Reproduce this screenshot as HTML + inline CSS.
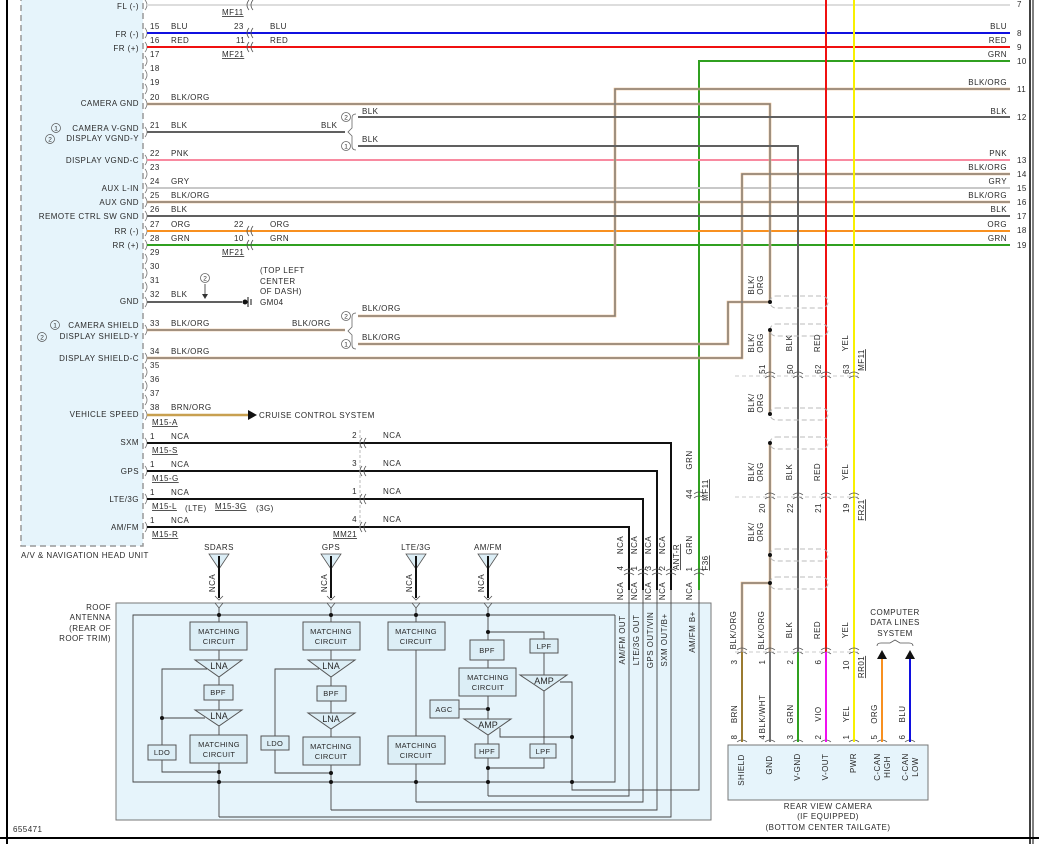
<!DOCTYPE html>
<html><head><meta charset="utf-8"><style>
html,body{margin:0;padding:0;background:#fff;}
svg{display:block;font-family:"Liberation Sans",sans-serif;font-size:8px;fill:#333;letter-spacing:0.45px;}
text{fill:#2a2a2a;}
.u{text-decoration:underline;}
</style></head><body>
<svg width="1039" height="844" viewBox="0 0 1039 844" xmlns="http://www.w3.org/2000/svg">
<!-- borders -->
<line x1="7" y1="0" x2="7" y2="844" stroke="#000" stroke-width="2"/>
<line x1="1030" y1="0" x2="1030" y2="844" stroke="#000" stroke-width="1.5"/>
<line x1="1033" y1="0" x2="1033" y2="844" stroke="#000" stroke-width="1"/>
<line x1="0" y1="838" x2="1039" y2="838" stroke="#000" stroke-width="2"/>

<!-- head unit box -->
<rect x="21" y="-5" width="122" height="551" fill="#e6f4fb" stroke="#999" stroke-width="1.5" stroke-dasharray="6,4"/>
<text x="21" y="558">A/V &amp; NAVIGATION HEAD UNIT</text>
<text x="13" y="832">655471</text>

<!-- left labels -->
<g text-anchor="end">
<text x="139" y="9">FL (-)</text>
<text x="139" y="37">FR (-)</text>
<text x="139" y="51">FR (+)</text>
<text x="139" y="106">CAMERA GND</text>
<text x="139" y="131">CAMERA V-GND</text>
<text x="139" y="141">DISPLAY VGND-Y</text>
<text x="139" y="163">DISPLAY VGND-C</text>
<text x="139" y="191">AUX L-IN</text>
<text x="139" y="205">AUX GND</text>
<text x="139" y="219">REMOTE CTRL SW GND</text>
<text x="139" y="234">RR (-)</text>
<text x="139" y="248">RR (+)</text>
<text x="139" y="304">GND</text>
<text x="139" y="328">CAMERA SHIELD</text>
<text x="139" y="339">DISPLAY SHIELD-Y</text>
<text x="139" y="361">DISPLAY SHIELD-C</text>
<text x="139" y="417">VEHICLE SPEED</text>
<text x="139" y="445">SXM</text>
<text x="139" y="474">GPS</text>
<text x="139" y="502">LTE/3G</text>
<text x="139" y="530">AM/FM</text>
</g>
<g fill="none" stroke="#555" stroke-width="0.7">
<circle cx="56" cy="128" r="4.5"/><circle cx="50" cy="139" r="4.5"/>
<circle cx="55" cy="325" r="4.5"/><circle cx="42" cy="337" r="4.5"/>
</g>
<g font-size="6.5" text-anchor="middle" style="letter-spacing:0">
<text x="56" y="130.5">1</text><text x="50" y="141.5">2</text>
<text x="55" y="327.5">1</text><text x="42" y="339.5">2</text>
</g>

<!-- pin connector marks -->
<g fill="none" stroke="#777" stroke-width="0.8">
<path d="M145 0 q4 5 0 10 M145 28 q4 5 0 10 M145 42 q4 5 0 10 M145 56 q4 5 0 10 M145 70 q4 5 0 10 M145 84 q4 5 0 10 M145 99 q4 5 0 10 M145 127 q4 5 0 10 M145 155 q4 5 0 10 M145 169 q4 5 0 10 M145 183 q4 5 0 10 M145 197 q4 5 0 10 M145 211 q4 5 0 10 M145 226 q4 5 0 10 M145 240 q4 5 0 10 M145 254 q4 5 0 10 M145 268 q4 5 0 10 M145 282 q4 5 0 10 M145 297 q4 5 0 10 M145 325 q4 5 0 10 M145 353 q4 5 0 10 M145 367 q4 5 0 10 M145 381 q4 5 0 10 M145 395 q4 5 0 10 M145 410 q4 5 0 10 M145 438 q4 5 0 10 M145 466 q4 5 0 10 M145 494 q4 5 0 10 M145 522 q4 5 0 10"/>
</g>
<!-- pin numbers -->
<g>
<text x="150" y="29">15</text><text x="150" y="43">16</text><text x="150" y="57">17</text><text x="150" y="71">18</text><text x="150" y="85">19</text>
<text x="150" y="100">20</text><text x="150" y="128">21</text><text x="150" y="156">22</text><text x="150" y="170">23</text><text x="150" y="184">24</text>
<text x="150" y="198">25</text><text x="150" y="212">26</text><text x="150" y="227">27</text><text x="150" y="241">28</text><text x="150" y="255">29</text>
<text x="150" y="269">30</text><text x="150" y="283">31</text><text x="150" y="297">32</text><text x="150" y="326">33</text><text x="150" y="354">34</text>
<text x="150" y="368">35</text><text x="150" y="382">36</text><text x="150" y="396">37</text><text x="150" y="410">38</text>
<text x="150" y="439">1</text><text x="150" y="467">1</text><text x="150" y="495">1</text><text x="150" y="523">1</text>
</g>
<!-- wire color labels left -->
<g>
<text x="171" y="29">BLU</text><text x="171" y="43">RED</text><text x="171" y="100">BLK/ORG</text><text x="171" y="128">BLK</text>
<text x="171" y="156">PNK</text><text x="171" y="184">GRY</text><text x="171" y="198">BLK/ORG</text><text x="171" y="212">BLK</text>
<text x="171" y="227">ORG</text><text x="171" y="241">GRN</text><text x="171" y="297">BLK</text><text x="171" y="326">BLK/ORG</text>
<text x="171" y="354">BLK/ORG</text><text x="171" y="410">BRN/ORG</text>
<text x="171" y="439">NCA</text><text x="171" y="467">NCA</text><text x="171" y="495">NCA</text><text x="171" y="523">NCA</text>
<text x="234" y="29">23</text><text x="236" y="43">11</text><text x="270" y="29">BLU</text><text x="270" y="43">RED</text>
<text x="234" y="227">22</text><text x="234" y="241">10</text><text x="270" y="227">ORG</text><text x="270" y="241">GRN</text>
<text x="222" y="15" class="u">MF11</text><text x="222" y="57" class="u">MF21</text><text x="222" y="255" class="u">MF21</text>
<text x="321" y="128">BLK</text><text x="362" y="114">BLK</text><text x="362" y="142">BLK</text>
<text x="292" y="326">BLK/ORG</text><text x="362" y="311">BLK/ORG</text><text x="362" y="340">BLK/ORG</text>
</g>

<!-- horizontal wires -->
<g fill="none" stroke-width="2">
<line x1="147" y1="5" x2="1010" y2="5" stroke="#ddd"/>
<line x1="147" y1="33" x2="1010" y2="33" stroke="#1010e0"/>
<line x1="147" y1="47" x2="1010" y2="47" stroke="#f01010"/>
<polyline points="699,590 699,61 1010,61" stroke="#30a020"/>
<line x1="147" y1="160" x2="1010" y2="160" stroke="#f88aa0"/>
<line x1="147" y1="188" x2="1010" y2="188" stroke="#c8c8c8"/>
<line x1="147" y1="231" x2="1010" y2="231" stroke="#f89020"/>
<line x1="147" y1="245" x2="1010" y2="245" stroke="#30a020"/>
<line x1="147" y1="415" x2="248" y2="415" stroke="#c8a050" stroke-width="2.5"/>
<g stroke="#e8b888" stroke-width="2.6">
<polyline points="147,104 770,104 770,302"/>
<polyline points="358,316 615,316 615,89 1010,89"/>
<polyline points="147,358 742,358 742,174 1010,174"/>
<line x1="147" y1="202" x2="1010" y2="202"/>
<polyline points="147,330 345,330"/>
<polyline points="358,344 728,344 728,302 770,302"/>
<polyline points="770,330 770,414"/>
<polyline points="770,443 770,652"/>
<polyline points="770,583 742,583 742,652"/>
</g>
<g stroke="#7a7a7a" stroke-width="1.3">
<polyline points="147,104 770,104 770,302"/>
<polyline points="358,316 615,316 615,89 1010,89"/>
<polyline points="147,358 742,358 742,174 1010,174"/>
<line x1="147" y1="202" x2="1010" y2="202"/>
<polyline points="147,330 345,330"/>
<polyline points="358,344 728,344 728,302 770,302"/>
<polyline points="770,330 770,414"/>
<polyline points="770,443 770,652"/>
<polyline points="770,583 742,583 742,652"/>
</g>
<g stroke="#606060">
<line x1="147" y1="132" x2="345" y2="132"/>
<line x1="358" y1="117" x2="1010" y2="117"/>
<polyline points="358,146 798,146 798,652"/>
<line x1="147" y1="216" x2="1010" y2="216"/>
<line x1="147" y1="302" x2="242" y2="302"/>
</g>
<line x1="826" y1="0" x2="826" y2="652" stroke="#f01010"/>
<line x1="854" y1="0" x2="854" y2="652" stroke="#f8f000"/>
<g stroke="#111" stroke-width="2">
<polyline points="147,443 671,443 671,590"/>
<polyline points="147,471 657,471 657,590"/>
<polyline points="147,499 643,499 643,590"/>
<polyline points="147,527 629,527 629,590"/>
</g>
</g>
<!-- braces -->
<g fill="none" stroke="#666" stroke-width="0.8">
<path d="M356 114 q-4 0 -4 4 v10 l-4 4 l4 4 v10 q0 4 4 4"/>
<path d="M356 313 q-4 0 -4 4 v10 l-4 4 l4 4 v10 q0 4 4 4"/>
<circle cx="346" cy="117" r="4.5"/><circle cx="346" cy="146" r="4.5"/>
<circle cx="346" cy="316" r="4.5"/><circle cx="346" cy="344" r="4.5"/>
<circle cx="205" cy="278" r="4.5"/>
</g>
<g font-size="6.5" text-anchor="middle" style="letter-spacing:0">
<text x="346" y="119.5">2</text><text x="346" y="148.5">1</text>
<text x="346" y="318.5">2</text><text x="346" y="346.5">1</text><text x="205" y="280.5">2</text>
</g>
<!-- ground -->
<line x1="205" y1="284" x2="205" y2="296" stroke="#333" stroke-width="0.8"/>
<path d="M202 294 L205 299 L208 294 Z" fill="#333"/>
<circle cx="245" cy="302" r="2.5" fill="#111"/>
<line x1="248" y1="297" x2="248" y2="307" stroke="#111" stroke-width="1"/>
<line x1="251" y1="299" x2="251" y2="305" stroke="#111" stroke-width="1"/>
<text x="260" y="273">(TOP LEFT</text><text x="260" y="284">CENTER</text><text x="260" y="294">OF DASH)</text><text x="260" y="305">GM04</text>
<path d="M248 410 L257 415 L248 420 Z" fill="#111"/>
<text x="259" y="418">CRUISE CONTROL SYSTEM</text>
<g>
<text x="152" y="425" class="u">M15-A</text><text x="152" y="453" class="u">M15-S</text><text x="152" y="481" class="u">M15-G</text>
<text x="152" y="509" class="u">M15-L</text><text x="215" y="509" class="u">M15-3G</text><text x="152" y="537" class="u">M15-R</text>
<text x="333" y="537" class="u">MM21</text>
</g>
<text x="185" y="511">(LTE)</text><text x="256" y="511">(3G)</text>
<g text-anchor="end"><text x="357" y="438">2</text><text x="357" y="466">3</text><text x="357" y="494">1</text><text x="357" y="522">4</text></g>
<text x="383" y="438">NCA</text><text x="383" y="466">NCA</text><text x="383" y="494">NCA</text><text x="383" y="522">NCA</text>

<!-- inline connectors -->
<g fill="none" stroke="#555" stroke-width="0.8">
<path d="M249 0 q-4 5 0 10 M253 0 q-4 5 0 10"/>
<path d="M249 28 q-4 5 0 10 M253 28 q-4 5 0 10 M249 42 q-4 5 0 10 M253 42 q-4 5 0 10"/>
<path d="M249 226 q-4 5 0 10 M253 226 q-4 5 0 10 M249 240 q-4 5 0 10 M253 240 q-4 5 0 10"/>
<path d="M362 438 q-4 5 0 10 M366 438 q-4 5 0 10 M362 466 q-4 5 0 10 M366 466 q-4 5 0 10 M362 494 q-4 5 0 10 M366 494 q-4 5 0 10 M362 522 q-4 5 0 10 M366 522 q-4 5 0 10"/>
<line x1="360" y1="430" x2="360" y2="530" stroke="#aaa" stroke-dasharray="3,2"/>
<path d="M624 571 q5 -4 10 0 M624 575 q5 -4 10 0 M638 571 q5 -4 10 0 M638 575 q5 -4 10 0 M652 571 q5 -4 10 0 M652 575 q5 -4 10 0 M666 571 q5 -4 10 0 M666 575 q5 -4 10 0 M694 571 q5 -4 10 0 M694 575 q5 -4 10 0"/>
<path d="M694 494 q5 -4 10 0 M694 498 q5 -4 10 0"/>
<path d="M765 374 q5 -4 10 0 M765 378 q5 -4 10 0 M793 374 q5 -4 10 0 M793 378 q5 -4 10 0 M821 374 q5 -4 10 0 M821 378 q5 -4 10 0 M849 374 q5 -4 10 0 M849 378 q5 -4 10 0"/>
<path d="M765 495 q5 -4 10 0 M765 499 q5 -4 10 0 M793 495 q5 -4 10 0 M793 499 q5 -4 10 0 M821 495 q5 -4 10 0 M821 499 q5 -4 10 0 M849 495 q5 -4 10 0 M849 499 q5 -4 10 0"/>
<path d="M737 650 q5 -4 10 0 M737 654 q5 -4 10 0 M765 650 q5 -4 10 0 M765 654 q5 -4 10 0 M793 650 q5 -4 10 0 M793 654 q5 -4 10 0 M821 650 q5 -4 10 0 M821 654 q5 -4 10 0 M849 650 q5 -4 10 0 M849 654 q5 -4 10 0"/>
<path d="M737 742 q5 -4 10 0 M765 742 q5 -4 10 0 M793 742 q5 -4 10 0 M821 742 q5 -4 10 0 M849 742 q5 -4 10 0 M877 742 q5 -4 10 0 M905 742 q5 -4 10 0"/>
</g>
<g stroke="#bbb" stroke-width="0.8" stroke-dasharray="4,3">
<line x1="735" y1="376" x2="860" y2="376"/><line x1="735" y1="497" x2="860" y2="497"/><line x1="735" y1="652" x2="860" y2="652"/>
</g>
<g fill="none" stroke="#bbb" stroke-width="1" stroke-dasharray="5,3">
<rect x="770" y="296" width="58" height="12" rx="6"/><rect x="770" y="324" width="58" height="12" rx="6"/>
<rect x="770" y="408" width="58" height="12" rx="6"/><rect x="770" y="437" width="58" height="12" rx="6"/>
<rect x="770" y="549" width="58" height="12" rx="6"/><rect x="770" y="577" width="58" height="12" rx="6"/>
</g>
<g fill="#111"><circle cx="770" cy="302" r="2"/><circle cx="770" cy="330" r="2"/><circle cx="770" cy="414" r="2"/><circle cx="770" cy="443" r="2"/><circle cx="770" cy="555" r="2"/><circle cx="770" cy="583" r="2"/></g>

<!-- right labels -->
<g text-anchor="end">
<text x="1007" y="29">BLU</text><text x="1007" y="43">RED</text><text x="1007" y="57">GRN</text><text x="1007" y="85">BLK/ORG</text>
<text x="1007" y="114">BLK</text><text x="1007" y="156">PNK</text><text x="1007" y="170">BLK/ORG</text><text x="1007" y="184">GRY</text>
<text x="1007" y="198">BLK/ORG</text><text x="1007" y="212">BLK</text><text x="1007" y="227">ORG</text><text x="1007" y="241">GRN</text>
</g>
<g>
<text x="1017" y="7">7</text><text x="1017" y="36">8</text><text x="1017" y="50">9</text><text x="1017" y="64">10</text><text x="1017" y="92">11</text>
<text x="1017" y="120">12</text><text x="1017" y="163">13</text><text x="1017" y="177">14</text><text x="1017" y="191">15</text><text x="1017" y="205">16</text>
<text x="1017" y="219">17</text><text x="1017" y="233">18</text><text x="1017" y="248">19</text>
</g>

<g text-anchor="middle">
<text transform="translate(754,285) rotate(-90)">BLK/</text><text transform="translate(763,285) rotate(-90)">ORG</text>
<text transform="translate(754,343) rotate(-90)">BLK/</text><text transform="translate(763,343) rotate(-90)">ORG</text>
<text transform="translate(754,403) rotate(-90)">BLK/</text><text transform="translate(763,403) rotate(-90)">ORG</text>
<text transform="translate(754,472) rotate(-90)">BLK/</text><text transform="translate(763,472) rotate(-90)">ORG</text>
<text transform="translate(754,532) rotate(-90)">BLK/</text><text transform="translate(763,532) rotate(-90)">ORG</text>
<text transform="translate(792,343) rotate(-90)">BLK</text><text transform="translate(820,343) rotate(-90)">RED</text><text transform="translate(848,343) rotate(-90)">YEL</text>
<text transform="translate(792,472) rotate(-90)">BLK</text><text transform="translate(820,472) rotate(-90)">RED</text><text transform="translate(848,472) rotate(-90)">YEL</text>
<text transform="translate(765,369) rotate(-90)">51</text><text transform="translate(793,369) rotate(-90)">50</text><text transform="translate(821,369) rotate(-90)">62</text><text transform="translate(849,369) rotate(-90)">63</text>
<text transform="translate(765,508) rotate(-90)">20</text><text transform="translate(793,508) rotate(-90)">22</text><text transform="translate(821,508) rotate(-90)">21</text><text transform="translate(849,508) rotate(-90)">19</text>
<text transform="translate(864,360) rotate(-90)" class="u">MF11</text><text transform="translate(864,510) rotate(-90)" class="u">FR21</text>
<text transform="translate(692,460) rotate(-90)">GRN</text><text transform="translate(692,545) rotate(-90)">GRN</text>
<text transform="translate(692,494) rotate(-90)">44</text><text transform="translate(692,569) rotate(-90)">1</text>
<text transform="translate(708,490) rotate(-90)" class="u">MF11</text><text transform="translate(708,563) rotate(-90)" class="u">F36</text>
<text transform="translate(623,545) rotate(-90)">NCA</text><text transform="translate(637,545) rotate(-90)">NCA</text><text transform="translate(651,545) rotate(-90)">NCA</text><text transform="translate(665,545) rotate(-90)">NCA</text>
<text transform="translate(623,568) rotate(-90)">4</text><text transform="translate(637,568) rotate(-90)">1</text><text transform="translate(651,568) rotate(-90)">3</text><text transform="translate(665,568) rotate(-90)">2</text>
<text transform="translate(679,557) rotate(-90)" class="u">ANT-R</text>
<text transform="translate(623,591) rotate(-90)">NCA</text><text transform="translate(637,591) rotate(-90)">NCA</text><text transform="translate(651,591) rotate(-90)">NCA</text><text transform="translate(665,591) rotate(-90)">NCA</text><text transform="translate(692,591) rotate(-90)">NCA</text>
</g>

<!-- antenna box -->
<rect x="116" y="603" width="595" height="217" fill="#e6f4fb" stroke="#777" stroke-width="1"/>
<g text-anchor="end"><text x="111" y="610">ROOF</text><text x="111" y="620">ANTENNA</text><text x="111" y="631">(REAR OF</text><text x="111" y="641">ROOF TRIM)</text></g>
<g text-anchor="middle">
<text x="219" y="550">SDARS</text><text x="331" y="550">GPS</text><text x="416" y="550">LTE/3G</text><text x="488" y="550">AM/FM</text>
<text transform="translate(215,583) rotate(-90)">NCA</text><text transform="translate(327,583) rotate(-90)">NCA</text><text transform="translate(412,583) rotate(-90)">NCA</text><text transform="translate(484,583) rotate(-90)">NCA</text>
</g>
<g stroke="#555" stroke-width="0.8" fill="#dceef6">
<path d="M209 554 L229 554 L219 569 Z"/><path d="M321 554 L341 554 L331 569 Z"/><path d="M406 554 L426 554 L416 569 Z"/><path d="M478 554 L498 554 L488 569 Z"/>
</g>
<g stroke="#111" stroke-width="2">
<line x1="219" y1="556" x2="219" y2="598"/><line x1="331" y1="556" x2="331" y2="598"/><line x1="416" y1="556" x2="416" y2="598"/><line x1="488" y1="556" x2="488" y2="598"/>
</g>
<g fill="none" stroke="#555" stroke-width="0.8">
<path d="M215 596 l4 4 l4 -4 M327 596 l4 4 l4 -4 M412 596 l4 4 l4 -4 M484 596 l4 4 l4 -4"/>
<path d="M215 603 l4 5 l4 -5 M327 603 l4 5 l4 -5 M412 603 l4 5 l4 -5 M484 603 l4 5 l4 -5"/>
</g>
<g text-anchor="middle">
<text transform="translate(625,640) rotate(-90)">AM/FM OUT</text>
<text transform="translate(639,640) rotate(-90)">LTE/3G OUT</text>
<text transform="translate(653,640) rotate(-90)">GPS OUT/VIN</text>
<text transform="translate(667,640) rotate(-90)">SXM OUT/B+</text>
<text transform="translate(695,632) rotate(-90)">AM/FM B+</text>
</g>
<g fill="none" stroke="#444" stroke-width="0.9">
<polyline points="615,615 133,615 133,782 615,782 615,615"/>
<line x1="219" y1="608" x2="219" y2="622"/><line x1="331" y1="608" x2="331" y2="622"/><line x1="416" y1="608" x2="416" y2="622"/><line x1="488" y1="608" x2="488" y2="640"/>
<line x1="219" y1="650" x2="219" y2="660"/><line x1="219" y1="677" x2="219" y2="685"/><line x1="219" y1="700" x2="219" y2="710"/><line x1="219" y1="726" x2="219" y2="735"/>
<line x1="219" y1="763" x2="219" y2="817"/>
<polyline points="207,669 162,669 162,745"/><line x1="162" y1="718" x2="205" y2="718"/>
<polyline points="162,760 162,772 219,772"/>
<polyline points="219,817 671,817 671,590"/>
<line x1="331" y1="650" x2="331" y2="660"/><line x1="331" y1="677" x2="331" y2="686"/><line x1="331" y1="701" x2="331" y2="713"/><line x1="331" y1="729" x2="331" y2="737"/>
<line x1="331" y1="765" x2="331" y2="810"/>
<polyline points="319,669 275,669 275,736"/>
<polyline points="275,750 275,773 331,773"/>
<polyline points="331,810 657,810 657,590"/>
<line x1="416" y1="650" x2="416" y2="736"/><line x1="416" y1="764" x2="416" y2="802"/>
<polyline points="416,802 643,802 643,590"/>
<polyline points="488,632 544,632 544,639"/><line x1="488" y1="660" x2="488" y2="668"/><line x1="488" y1="696" x2="488" y2="719"/>
<line x1="459" y1="709" x2="488" y2="709"/><line x1="488" y1="735" x2="488" y2="744"/><line x1="488" y1="758" x2="488" y2="796"/>
<line x1="544" y1="653" x2="544" y2="744"/>
<polyline points="560,682 572,682 572,790 699,790 699,590"/>
<polyline points="500,728 500,737 572,737"/>
<polyline points="544,758 544,768 488,768"/>
<polyline points="488,796 629,796 629,590"/>
</g>
<g fill="#dceef6" stroke="#555" stroke-width="1">
<rect x="190" y="622" width="57" height="28"/><rect x="204" y="685" width="29" height="15"/><rect x="190" y="735" width="57" height="28"/><rect x="148" y="745" width="28" height="15"/>
<rect x="303" y="622" width="57" height="28"/><rect x="317" y="686" width="29" height="15"/><rect x="303" y="737" width="57" height="28"/><rect x="261" y="736" width="28" height="14"/>
<rect x="388" y="622" width="57" height="28"/><rect x="388" y="736" width="57" height="28"/>
<rect x="470" y="640" width="34" height="20"/><rect x="459" y="668" width="57" height="28"/><rect x="430" y="700" width="29" height="18"/>
<rect x="475" y="744" width="24" height="14"/><rect x="530" y="639" width="28" height="14"/><rect x="530" y="744" width="26" height="14"/>
<path d="M195 660 L242 660 L219 677 Z"/><path d="M195 710 L242 710 L219 726 Z"/>
<path d="M308 660 L355 660 L331 677 Z"/><path d="M308 713 L355 713 L331 729 Z"/>
<path d="M464 719 L511 719 L488 735 Z"/><path d="M520 675 L567 675 L544 691 Z"/>
</g>
<g fill="#111">
<circle cx="219" cy="615" r="2"/><circle cx="331" cy="615" r="2"/><circle cx="416" cy="615" r="2"/><circle cx="488" cy="615" r="2"/><circle cx="488" cy="632" r="2"/>
<circle cx="162" cy="718" r="2"/><circle cx="219" cy="772" r="2"/><circle cx="331" cy="773" r="2"/><circle cx="488" cy="709" r="2"/><circle cx="572" cy="737" r="2"/><circle cx="488" cy="768" r="2"/>
<circle cx="219" cy="782" r="2"/><circle cx="331" cy="782" r="2"/><circle cx="416" cy="782" r="2"/><circle cx="488" cy="782" r="2"/><circle cx="572" cy="782" r="2"/>
</g>
<g text-anchor="middle" font-size="7.5" style="letter-spacing:0.3px">
<text x="219" y="634">MATCHING</text><text x="219" y="644">CIRCUIT</text><text x="219" y="747">MATCHING</text><text x="219" y="757">CIRCUIT</text>
<text x="331" y="634">MATCHING</text><text x="331" y="644">CIRCUIT</text><text x="331" y="749">MATCHING</text><text x="331" y="759">CIRCUIT</text>
<text x="416" y="634">MATCHING</text><text x="416" y="644">CIRCUIT</text><text x="416" y="748">MATCHING</text><text x="416" y="758">CIRCUIT</text>
<text x="488" y="680">MATCHING</text><text x="488" y="690">CIRCUIT</text>
<text x="218" y="695">BPF</text><text x="331" y="696">BPF</text><text x="487" y="653">BPF</text>
<text x="162" y="755">LDO</text><text x="275" y="746">LDO</text><text x="444" y="712">AGC</text>
<text x="487" y="754">HPF</text><text x="544" y="649">LPF</text><text x="543" y="754">LPF</text>
</g>
<g text-anchor="middle" font-size="9" style="letter-spacing:0">
<text x="219" y="669">LNA</text><text x="219" y="719">LNA</text><text x="331" y="669">LNA</text><text x="331" y="722">LNA</text>
<text x="488" y="728">AMP</text><text x="544" y="684">AMP</text>
</g>

<!-- camera lower wires -->
<g stroke-width="2" fill="none">
<line x1="742" y1="652" x2="742" y2="742" stroke="#9a7a30"/>
<line x1="770" y1="652" x2="770" y2="742" stroke="#707070"/>
<line x1="798" y1="652" x2="798" y2="742" stroke="#30a020"/>
<line x1="826" y1="652" x2="826" y2="742" stroke="#f010f0"/>
<line x1="854" y1="652" x2="854" y2="742" stroke="#f8f000"/>
<line x1="882" y1="658" x2="882" y2="742" stroke="#f89020"/>
<line x1="910" y1="658" x2="910" y2="742" stroke="#1010e0"/>
</g>
<path d="M877 659 L882 650 L887 659 Z M905 659 L910 650 L915 659 Z" fill="#111"/>
<path d="M877 646 q0 -3 4 -3 h9 l5 -3 l5 3 h9 q4 0 4 3" fill="none" stroke="#555" stroke-width="0.8"/>
<g text-anchor="middle"><text x="895" y="615">COMPUTER</text><text x="895" y="625">DATA LINES</text><text x="895" y="636">SYSTEM</text></g>
<rect x="728" y="745" width="200" height="55" fill="#e6f4fb" stroke="#777" stroke-width="1"/>
<g text-anchor="middle">
<text transform="translate(736,630) rotate(-90)">BLK/ORG</text><text transform="translate(764,630) rotate(-90)">BLK/ORG</text>
<text transform="translate(792,630) rotate(-90)">BLK</text><text transform="translate(820,630) rotate(-90)">RED</text><text transform="translate(848,630) rotate(-90)">YEL</text>
<text transform="translate(737,662) rotate(-90)">3</text><text transform="translate(765,662) rotate(-90)">1</text><text transform="translate(793,662) rotate(-90)">2</text><text transform="translate(821,662) rotate(-90)">6</text><text transform="translate(849,665) rotate(-90)">10</text>
<text transform="translate(864,667) rotate(-90)" class="u">RR01</text>
<text transform="translate(737,714) rotate(-90)">BRN</text><text transform="translate(765,714) rotate(-90)">BLK/WHT</text><text transform="translate(793,714) rotate(-90)">GRN</text>
<text transform="translate(821,714) rotate(-90)">VIO</text><text transform="translate(849,714) rotate(-90)">YEL</text><text transform="translate(877,714) rotate(-90)">ORG</text><text transform="translate(905,714) rotate(-90)">BLU</text>
<text transform="translate(737,737) rotate(-90)">8</text><text transform="translate(765,737) rotate(-90)">4</text><text transform="translate(793,737) rotate(-90)">3</text><text transform="translate(821,737) rotate(-90)">2</text>
<text transform="translate(849,737) rotate(-90)">1</text><text transform="translate(877,737) rotate(-90)">5</text><text transform="translate(905,737) rotate(-90)">6</text>
<text transform="translate(744,770) rotate(-90)">SHIELD</text><text transform="translate(772,765) rotate(-90)">GND</text><text transform="translate(800,767) rotate(-90)">V-GND</text>
<text transform="translate(828,767) rotate(-90)">V-OUT</text><text transform="translate(856,763) rotate(-90)">PWR</text>
<text transform="translate(880,767) rotate(-90)">C-CAN</text><text transform="translate(890,767) rotate(-90)">HIGH</text>
<text transform="translate(908,767) rotate(-90)">C-CAN</text><text transform="translate(918,767) rotate(-90)">LOW</text>
<text x="828" y="809">REAR VIEW CAMERA</text><text x="828" y="819">(IF EQUIPPED)</text><text x="828" y="830">(BOTTOM CENTER TAILGATE)</text>
</g>
</svg>
</body></html>
